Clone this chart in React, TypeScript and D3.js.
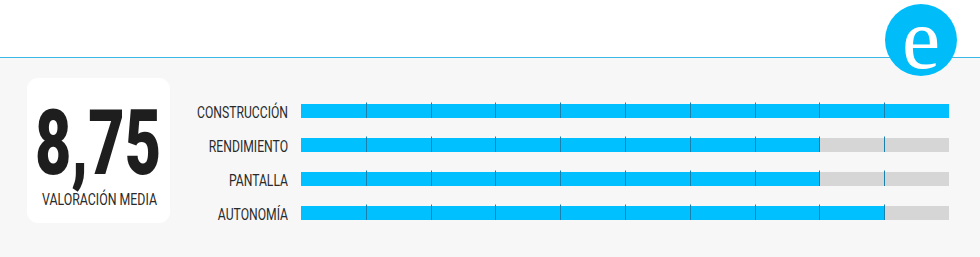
import React from "react";
import * as d3 from "d3";

const categories = ["CONSTRUCCIÓN", "RENDIMIENTO", "PANTALLA", "AUTONOMÍA"];
const scores = [10, 8, 8, 9];
const scaleMax = 10;
const tickValues = [1, 2, 3, 4, 5, 6, 7, 8, 9];
const averageLabel = "8,75";
const averageCaption = "VALORACIÓN MEDIA";
const logoLetter = "e";

const W = 980;
const H = 257;

export default function App() {
  const x = d3.scaleLinear().domain([0, scaleMax]).range([301, 949]);
  const y = d3.scalePoint<string>().domain(categories).range([111, 213]);
  const barH = 14;
  const condense = 0.76;

  return (
    <svg
      width={W}
      height={H}
      style={{ position: "absolute", left: 0, top: 0, display: "block" }}
      fontFamily="Roboto, 'Noto Sans', sans-serif"
    >
      <rect x={0} y={0} width={W} height={H} fill="#ffffff" />
      <rect x={0} y={57} width={W} height={H - 57} fill="#f7f7f7" />
      <rect x={0} y={57} width={W} height={1} fill="#3cb8e6" />

      {/* logo */}
      <circle cx={921} cy={40} r={36} fill="#00bdf9" />
      <text
        x={921}
        y={68}
        textAnchor="middle"
        fill="#ffffff"
        style={{ fontFamily: "'Liberation Serif', 'Times New Roman', 'DejaVu Serif', serif" }}
        fontSize={86}
      >
        {logoLetter}
      </text>

      {/* card */}
      <rect x={27} y={78} width={143} height={145} rx={11} ry={11} fill="#ffffff" />
      <text
        x={35}
        y={174}
        fill="#1e1e1e"
        fontWeight={900}
        fontSize={91}
        textLength={126}
        lengthAdjust="spacingAndGlyphs"
      >
        {averageLabel}
      </text>
      <text
        x={42}
        y={205}
        fill="#2a2a2a"
        fontSize={17}
        textLength={115}
        lengthAdjust="spacingAndGlyphs"
      >
        {averageCaption}
      </text>

      {/* labels */}
      {categories.map((c) => (
        <text
          key={"l" + c}
          transform={`translate(288, ${(y(c) as number) + 6.5}) scale(${condense},1)`}
          textAnchor="end"
          fill="#2a2a2a"
          fontSize={16}
        >
          {c}
        </text>
      ))}

      {/* bars */}
      {categories.map((c, i) => {
        const cy = y(c) as number;
        const top = cy - barH / 2;
        return (
          <g key={"b" + c}>
            <rect x={x(0)} y={top} width={x(scaleMax) - x(0)} height={barH} fill="#d6d6d6" />
            <rect x={x(0)} y={top} width={x(scores[i]) - x(0)} height={barH} fill="#00c0ff" />
            {tickValues.map((t) => (
              <line
                key={t}
                x1={Math.round(x(t)) + 0.5}
                x2={Math.round(x(t)) + 0.5}
                y1={top - 1.5}
                y2={top + barH}
                stroke="#1a80ad"
                strokeWidth={1}
              />
            ))}
          </g>
        );
      })}
    </svg>
  );
}
